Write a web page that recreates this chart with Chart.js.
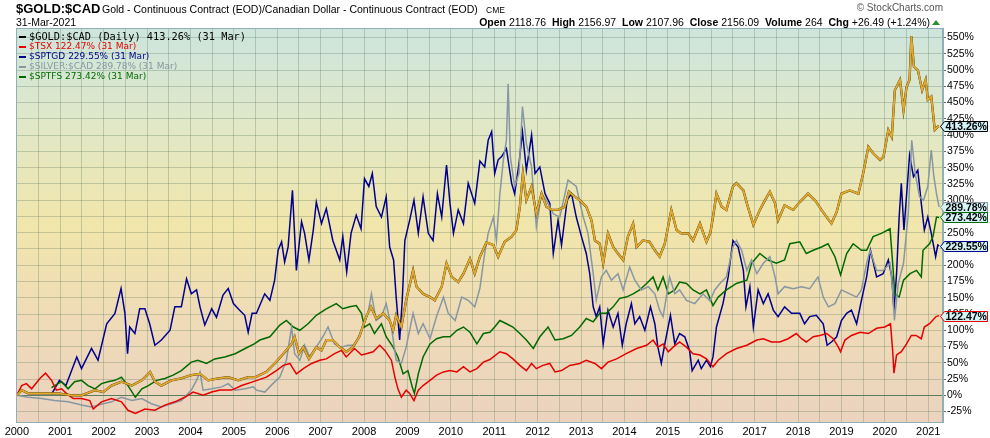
<!DOCTYPE html>
<html>
<head>
<meta charset="utf-8">
<title>$GOLD:$CAD</title>
<script src="https://cdn.jsdelivr.net/npm/chart.js@4.4.1/dist/chart.umd.min.js"></script>
<style>
  html, body { margin: 0; padding: 0; background: #fff; }
  #wrap { position: relative; width: 990px; height: 438px; overflow: hidden; }
  #chart { position: absolute; left: 0; top: 0; }
  .t { position: absolute; white-space: nowrap; font-family: "Liberation Sans", Arial, sans-serif; color: #000; line-height: 1; }
  #symbol { left: 16px; top: 2px; font-size: 13px; font-weight: bold; }
  #desc { left: 102px; top: 4.4px; font-size: 10.5px; }
  #exch { left: 486px; top: 5.5px; font-size: 8.5px; }
  #date { left: 16px; top: 17px; font-size: 10.5px; }
  #ohlc { right: 60px; top: 17px; font-size: 10.5px; }
  #ohlc b { font-weight: bold; }
  #tri { position: absolute; right: 50px; top: 20px; width: 0; height: 0; border-left: 4px solid transparent; border-right: 4px solid transparent; border-bottom: 5px solid #2f8f2f; }
  #copy { right: 47px; top: 3px; font-size: 10px; color: #555; }
  #legend { position: absolute; left: 19px; top: 31px; }
  .row { position: relative; height: 10px; line-height: 10px; white-space: nowrap; font-family: "DejaVu Sans", sans-serif; font-size: 9px; }
  .row.main { font-family: "DejaVu Sans Mono", monospace; font-size: 10.3px; }
  .row i { display: inline-block; width: 7px; height: 2px; vertical-align: middle; margin-right: 3px; }
</style>
</head>
<body>
<div id="wrap">
  <canvas id="chart" width="990" height="438"></canvas>
  <div class="t" id="symbol">$GOLD:$CAD</div>
  <div class="t" id="desc">Gold - Continuous Contract (EOD)/Canadian Dollar - Continuous Contract (EOD)</div>
  <div class="t" id="exch">CME</div>
  <div class="t" id="date">31-Mar-2021</div>
  <div class="t" id="copy">&copy; StockCharts.com</div>
  <div class="t" id="ohlc"><b>Open</b> 2118.76 &nbsp;<b>High</b> 2156.97 &nbsp;<b>Low</b> 2107.96 &nbsp;<b>Close</b> 2156.09 &nbsp;<b>Volume</b> 264 &nbsp;<b>Chg</b> +26.49 (+1.24%)</div>
  <div id="tri"></div>
  <div id="legend"></div>
</div>
<script>
// --- Data (decimal year, % change since Jan 2000) ---
const goldYears = [2000.00, 2000.11, 2000.26, 2000.57, 2000.95, 2001.26, 2001.49, 2001.80, 2001.99, 2002.18, 2002.41, 2002.65, 2002.88, 2003.07, 2003.18, 2003.33, 2003.56, 2003.79, 2004.02, 2004.22, 2004.41, 2004.64, 2004.87, 2005.10, 2005.33, 2005.50, 2005.75, 2005.94, 2006.14, 2006.33, 2006.40, 2006.50, 2006.60, 2006.73, 2006.90, 2007.02, 2007.13, 2007.28, 2007.44, 2007.59, 2007.74, 2007.89, 2008.05, 2008.16, 2008.28, 2008.44, 2008.59, 2008.67, 2008.74, 2008.86, 2008.97, 2009.13, 2009.21, 2009.36, 2009.52, 2009.63, 2009.79, 2009.90, 2010.02, 2010.17, 2010.29, 2010.44, 2010.55, 2010.67, 2010.82, 2010.98, 2011.09, 2011.24, 2011.40, 2011.51, 2011.59, 2011.66, 2011.74, 2011.86, 2011.97, 2012.09, 2012.20, 2012.32, 2012.47, 2012.63, 2012.72, 2012.86, 2012.97, 2013.12, 2013.24, 2013.32, 2013.43, 2013.51, 2013.62, 2013.74, 2013.85, 2013.97, 2014.08, 2014.20, 2014.28, 2014.43, 2014.58, 2014.70, 2014.81, 2014.93, 2015.08, 2015.20, 2015.31, 2015.47, 2015.58, 2015.74, 2015.89, 2015.98, 2016.05, 2016.12, 2016.24, 2016.35, 2016.50, 2016.58, 2016.74, 2016.82, 2016.97, 2017.12, 2017.24, 2017.35, 2017.47, 2017.54, 2017.69, 2017.89, 2018.04, 2018.23, 2018.39, 2018.54, 2018.66, 2018.77, 2018.89, 2019.00, 2019.19, 2019.39, 2019.50, 2019.62, 2019.73, 2019.89, 2019.97, 2020.08, 2020.16, 2020.23, 2020.35, 2020.43, 2020.50, 2020.57, 2020.61, 2020.67, 2020.76, 2020.86, 2020.94, 2020.99, 2021.07, 2021.15, 2021.22, 2021.25];
const goldPct = [0, 8, 3, 3, 3, 0, 0, 8, 5, 15, 21, 15, 23, 36, 21, 15, 23, 26, 31, 33, 23, 26, 28, 23, 28, 28, 36, 49, 64, 79, 90, 64, 74, 56, 74, 69, 85, 85, 74, 67, 74, 90, 121, 136, 118, 126, 115, 100, 123, 105, 146, 192, 167, 156, 151, 146, 167, 203, 182, 174, 187, 210, 187, 213, 235, 231, 213, 236, 244, 254, 290, 341, 300, 321, 279, 310, 290, 285, 285, 290, 313, 305, 300, 290, 269, 238, 233, 203, 249, 228, 218, 208, 244, 264, 228, 238, 236, 223, 213, 233, 285, 254, 249, 249, 238, 264, 236, 250, 278, 310, 290, 285, 321, 326, 315, 295, 262, 285, 300, 313, 295, 269, 292, 285, 297, 310, 300, 285, 274, 264, 282, 310, 315, 310, 341, 382, 372, 362, 367, 408, 397, 469, 485, 438, 474, 485, 552, 505, 500, 469, 485, 454, 459, 408, 413, 413.26];

const tsxYears = [2000.00, 2000.11, 2000.22, 2000.34, 2000.53, 2000.66, 2000.80, 2000.91, 2001.03, 2001.14, 2001.30, 2001.49, 2001.68, 2001.76, 2001.95, 2002.18, 2002.41, 2002.56, 2002.73, 2002.95, 2003.18, 2003.41, 2003.64, 2003.87, 2004.06, 2004.29, 2004.49, 2004.68, 2004.95, 2005.18, 2005.45, 2005.75, 2005.98, 2006.14, 2006.29, 2006.44, 2006.60, 2006.79, 2006.98, 2007.13, 2007.32, 2007.48, 2007.59, 2007.78, 2007.94, 2008.05, 2008.21, 2008.36, 2008.48, 2008.63, 2008.71, 2008.78, 2008.86, 2008.97, 2009.05, 2009.15, 2009.25, 2009.36, 2009.52, 2009.67, 2009.83, 2009.98, 2010.14, 2010.29, 2010.44, 2010.60, 2010.75, 2010.90, 2011.13, 2011.28, 2011.43, 2011.59, 2011.74, 2011.86, 2011.97, 2012.12, 2012.28, 2012.40, 2012.55, 2012.74, 2012.97, 2013.12, 2013.32, 2013.47, 2013.62, 2013.82, 2014.04, 2014.28, 2014.51, 2014.66, 2014.77, 2014.89, 2015.01, 2015.12, 2015.27, 2015.43, 2015.58, 2015.74, 2015.89, 2016.04, 2016.16, 2016.35, 2016.58, 2016.82, 2017.05, 2017.20, 2017.39, 2017.58, 2017.77, 2017.96, 2018.08, 2018.19, 2018.35, 2018.50, 2018.66, 2018.81, 2018.93, 2018.98, 2019.08, 2019.23, 2019.43, 2019.62, 2019.81, 2020.00, 2020.13, 2020.18, 2020.21, 2020.27, 2020.38, 2020.50, 2020.61, 2020.72, 2020.84, 2020.91, 2021.03, 2021.18, 2021.25];
const tsxPct = [0, 15, 18, 10, 26, 34, 23, 8, 10, 3, -5, -5, -8, -21, -10, -5, -10, -23, -28, -21, -23, -15, -10, -3, 5, 0, 5, 8, 8, 15, 21, 28, 38, 46, 49, 33, 41, 49, 54, 56, 64, 69, 59, 72, 62, 64, 67, 77, 69, 54, 28, 10, -3, 8, 3, -8, 8, 15, 23, 31, 36, 38, 36, 44, 36, 41, 51, 55, 67, 64, 56, 46, 38, 49, 41, 46, 49, 36, 38, 46, 49, 54, 49, 41, 51, 56, 64, 72, 77, 85, 74, 79, 67, 74, 82, 74, 64, 62, 56, 44, 54, 64, 72, 77, 85, 87, 82, 82, 87, 95, 87, 82, 90, 92, 95, 87, 74, 67, 85, 92, 97, 95, 103, 105, 110, 69, 34, 62, 67, 79, 92, 92, 87, 105, 110, 121, 122.47];

const sptgdYears = [2000.80, 2000.98, 2001.13, 2001.38, 2001.49, 2001.72, 2001.87, 2002.07, 2002.26, 2002.40, 2002.49, 2002.55, 2002.60, 2002.72, 2002.83, 2002.95, 2003.06, 2003.18, 2003.33, 2003.53, 2003.64, 2003.79, 2003.91, 2004.02, 2004.14, 2004.22, 2004.33, 2004.49, 2004.60, 2004.75, 2004.87, 2004.99, 2005.10, 2005.25, 2005.33, 2005.42, 2005.52, 2005.71, 2005.83, 2005.94, 2006.02, 2006.10, 2006.17, 2006.25, 2006.35, 2006.44, 2006.56, 2006.63, 2006.73, 2006.83, 2006.90, 2007.02, 2007.13, 2007.28, 2007.44, 2007.51, 2007.60, 2007.70, 2007.82, 2007.93, 2008.01, 2008.11, 2008.19, 2008.28, 2008.40, 2008.51, 2008.59, 2008.68, 2008.74, 2008.82, 2008.88, 2008.94, 2009.05, 2009.15, 2009.25, 2009.36, 2009.48, 2009.59, 2009.69, 2009.79, 2009.90, 2009.98, 2010.06, 2010.17, 2010.29, 2010.40, 2010.55, 2010.67, 2010.78, 2010.86, 2010.94, 2011.01, 2011.09, 2011.17, 2011.28, 2011.40, 2011.47, 2011.57, 2011.65, 2011.74, 2011.86, 2011.94, 2012.05, 2012.17, 2012.28, 2012.36, 2012.47, 2012.55, 2012.68, 2012.78, 2012.89, 2013.01, 2013.12, 2013.20, 2013.28, 2013.35, 2013.43, 2013.51, 2013.62, 2013.74, 2013.85, 2013.95, 2014.04, 2014.16, 2014.24, 2014.35, 2014.47, 2014.60, 2014.70, 2014.77, 2014.85, 2014.93, 2015.06, 2015.16, 2015.27, 2015.39, 2015.50, 2015.56, 2015.70, 2015.77, 2015.89, 2015.98, 2016.04, 2016.12, 2016.27, 2016.39, 2016.50, 2016.62, 2016.74, 2016.80, 2016.89, 2016.97, 2017.08, 2017.20, 2017.31, 2017.43, 2017.54, 2017.69, 2017.85, 2018.04, 2018.15, 2018.27, 2018.42, 2018.58, 2018.67, 2018.77, 2018.89, 2019.00, 2019.12, 2019.23, 2019.35, 2019.46, 2019.58, 2019.67, 2019.81, 2019.96, 2020.08, 2020.16, 2020.21, 2020.27, 2020.33, 2020.38, 2020.44, 2020.57, 2020.66, 2020.76, 2020.84, 2020.91, 2020.99, 2021.07, 2021.17, 2021.22, 2021.25];
const sptgdPct = [2, 23, 15, 59, 41, 72, 54, 110, 126, 164, 126, 64, 105, 95, 133, 133, 110, 77, 85, 100, 136, 136, 179, 156, 162, 136, 108, 133, 120, 154, 164, 141, 133, 123, 97, 126, 126, 156, 146, 177, 223, 236, 205, 228, 315, 192, 267, 249, 208, 254, 297, 264, 287, 238, 208, 244, 190, 249, 277, 256, 333, 321, 341, 290, 274, 305, 228, 208, 151, 85, 146, 238, 269, 300, 249, 305, 249, 238, 310, 274, 354, 295, 249, 285, 264, 326, 295, 360, 351, 392, 405, 341, 362, 367, 379, 326, 310, 356, 405, 346, 400, 341, 351, 310, 295, 218, 269, 231, 300, 310, 274, 244, 218, 187, 136, 121, 136, 79, 131, 105, 126, 77, 110, 141, 110, 121, 100, 136, 110, 74, 49, 79, 123, 79, 95, 90, 69, 38, 54, 41, 54, 44, 59, 105, 141, 182, 238, 228, 192, 136, 167, 105, 162, 141, 156, 131, 121, 136, 126, 126, 110, 121, 123, 110, 77, 82, 90, 115, 126, 131, 110, 146, 182, 223, 182, 187, 208, 182, 131, 187, 274, 326, 254, 369, 336, 346, 295, 254, 274, 249, 213, 231, 229.55];

const silverYears = [2000.00, 2000.26, 2000.57, 2000.87, 2001.18, 2001.49, 2001.72, 2001.99, 2002.18, 2002.41, 2002.65, 2002.88, 2003.10, 2003.33, 2003.56, 2003.79, 2004.02, 2004.14, 2004.22, 2004.29, 2004.49, 2004.72, 2004.87, 2005.03, 2005.26, 2005.45, 2005.52, 2005.71, 2005.90, 2006.06, 2006.21, 2006.33, 2006.40, 2006.52, 2006.63, 2006.75, 2006.90, 2007.05, 2007.17, 2007.32, 2007.48, 2007.63, 2007.78, 2007.94, 2008.09, 2008.17, 2008.28, 2008.40, 2008.51, 2008.63, 2008.74, 2008.86, 2008.97, 2009.13, 2009.25, 2009.36, 2009.52, 2009.67, 2009.83, 2009.94, 2010.10, 2010.25, 2010.40, 2010.55, 2010.67, 2010.78, 2010.86, 2010.98, 2011.05, 2011.13, 2011.21, 2011.28, 2011.32, 2011.37, 2011.47, 2011.57, 2011.65, 2011.74, 2011.86, 2011.97, 2012.09, 2012.20, 2012.36, 2012.51, 2012.70, 2012.89, 2013.05, 2013.16, 2013.28, 2013.35, 2013.47, 2013.58, 2013.70, 2013.85, 2013.97, 2014.12, 2014.24, 2014.39, 2014.55, 2014.70, 2014.81, 2014.89, 2015.04, 2015.16, 2015.27, 2015.43, 2015.62, 2015.81, 2015.97, 2016.08, 2016.20, 2016.35, 2016.50, 2016.58, 2016.70, 2016.82, 2016.93, 2017.05, 2017.20, 2017.35, 2017.47, 2017.54, 2017.69, 2017.89, 2018.08, 2018.27, 2018.46, 2018.58, 2018.70, 2018.85, 2019.00, 2019.19, 2019.35, 2019.46, 2019.58, 2019.66, 2019.81, 2019.96, 2020.12, 2020.18, 2020.22, 2020.31, 2020.43, 2020.54, 2020.62, 2020.70, 2020.80, 2020.89, 2020.99, 2021.07, 2021.13, 2021.19, 2021.25];
const silverPct = [0, -3, -5, -8, -10, -15, -18, -13, -10, -3, -8, -5, -13, -18, -13, -8, 8, 23, 36, 8, 10, 13, 18, 8, 10, 13, 8, 5, 18, 28, 54, 105, 64, 54, 77, 59, 74, 90, 105, 79, 74, 77, 77, 100, 126, 156, 115, 121, 141, 105, 54, 49, 74, 126, 95, 110, 87, 121, 151, 126, 115, 151, 146, 136, 165, 218, 249, 274, 238, 310, 362, 392, 479, 367, 321, 341, 444, 387, 351, 259, 310, 300, 279, 274, 331, 321, 274, 249, 187, 146, 182, 192, 177, 187, 162, 197, 177, 162, 167, 156, 131, 121, 182, 156, 162, 146, 141, 156, 145, 162, 172, 182, 228, 238, 223, 192, 208, 187, 203, 213, 182, 156, 167, 164, 167, 164, 182, 151, 136, 141, 162, 156, 151, 162, 203, 223, 192, 192, 203, 162, 115, 172, 203, 279, 392, 341, 305, 300, 321, 377, 336, 310, 289.78];

const sptfsYears = [2000.80, 2000.87, 2001.03, 2001.18, 2001.33, 2001.49, 2001.64, 2001.80, 2001.95, 2002.10, 2002.26, 2002.41, 2002.56, 2002.73, 2002.88, 2003.03, 2003.22, 2003.41, 2003.60, 2003.79, 2004.02, 2004.17, 2004.37, 2004.56, 2004.79, 2005.03, 2005.26, 2005.47, 2005.60, 2005.83, 2006.06, 2006.21, 2006.37, 2006.52, 2006.71, 2006.90, 2007.13, 2007.36, 2007.51, 2007.67, 2007.82, 2007.94, 2008.01, 2008.13, 2008.24, 2008.40, 2008.51, 2008.67, 2008.78, 2008.90, 2009.01, 2009.11, 2009.16, 2009.25, 2009.36, 2009.52, 2009.67, 2009.83, 2009.98, 2010.14, 2010.29, 2010.44, 2010.60, 2010.75, 2010.90, 2011.01, 2011.13, 2011.28, 2011.43, 2011.59, 2011.74, 2011.90, 2012.05, 2012.24, 2012.40, 2012.59, 2012.78, 2012.97, 2013.12, 2013.28, 2013.43, 2013.58, 2013.74, 2013.89, 2014.04, 2014.20, 2014.35, 2014.51, 2014.66, 2014.77, 2014.89, 2015.01, 2015.16, 2015.27, 2015.43, 2015.58, 2015.74, 2015.89, 2016.04, 2016.16, 2016.35, 2016.58, 2016.82, 2016.93, 2017.12, 2017.31, 2017.50, 2017.69, 2017.81, 2018.04, 2018.19, 2018.35, 2018.54, 2018.69, 2018.85, 2018.98, 2019.12, 2019.27, 2019.46, 2019.58, 2019.73, 2019.92, 2020.12, 2020.18, 2020.23, 2020.33, 2020.43, 2020.58, 2020.73, 2020.84, 2020.88, 2021.03, 2021.11, 2021.19, 2021.25];
const sptfsPct = [12, 15, 21, 10, 21, 23, 15, 10, 18, 21, 23, 28, 15, -3, 10, 15, 23, 26, 31, 38, 51, 54, 49, 56, 59, 64, 72, 79, 85, 90, 108, 115, 105, 100, 110, 123, 133, 141, 133, 136, 138, 126, 105, 110, 95, 110, 90, 74, 59, 33, 38, 13, 3, 33, 59, 79, 87, 90, 90, 100, 105, 97, 79, 95, 97, 105, 115, 110, 105, 95, 85, 72, 90, 105, 85, 87, 92, 105, 118, 113, 126, 126, 136, 149, 151, 156, 162, 172, 182, 162, 182, 156, 162, 174, 172, 162, 156, 162, 138, 151, 162, 172, 177, 203, 218, 208, 203, 208, 233, 236, 218, 223, 228, 233, 213, 185, 218, 233, 223, 223, 244, 249, 256, 203, 156, 151, 177, 187, 192, 182, 223, 233, 244, 274, 273.42];

// axis tick labels
const yearTicks = [2000, 2001, 2002, 2003, 2004, 2005, 2006, 2007, 2008, 2009, 2010, 2011, 2012, 2013, 2014, 2015, 2016, 2017, 2018, 2019, 2020, 2021];
const pctTicks = [-25, 0, 25, 50, 75, 100, 125, 150, 175, 200, 225, 250, 275, 300, 325, 350, 375, 400, 425, 450, 475, 500, 525, 550];

// --- Series setup ---
const toPoints = (xs, ys) => xs.map((x, i) => ({ x: x, y: ys[i] }));

const series = [
    { name: '$GOLD:$CAD', extra: ' (Daily)', xs: goldYears, ys: goldPct, color: '#e2a92c', text: '#000', tagBorder: '#000', main: true },
    { name: '$TSX', xs: tsxYears, ys: tsxPct, color: '#e60000', text: '#e60000', tagBorder: '#e60000' },
    { name: '$SPTGD', xs: sptgdYears, ys: sptgdPct, color: '#000090', text: '#000090', tagBorder: '#000090' },
    { name: '$SILVER:$CAD', xs: silverYears, ys: silverPct, color: '#8797a3', text: '#8797a3', tagBorder: '#8797a3' },
    { name: '$SPTFS', xs: sptfsYears, ys: sptfsPct, color: '#006a00', text: '#006a00', tagBorder: '#006a00' }
];

const lastOf = s => s.ys[s.ys.length - 1];

// --- Legend (HTML) ---
const legendEl = document.getElementById('legend');
series.forEach(s => {
    const row = document.createElement('div');
    row.className = 'row' + (s.main ? ' main' : '');
    row.style.color = s.text;
    row.innerHTML = `<i style="background:${s.main ? '#000' : s.color}"></i>${s.name}${s.extra || ''} ${lastOf(s).toFixed(2)}% (31 Mar)`;
    legendEl.appendChild(row);
});

// --- Datasets: first drawn on top ---
const byName = n => series.find(s => s.name === n);
const mk = (s, color, width) => ({
    label: s.name,
    data: toPoints(s.xs, s.ys),
    borderColor: color,
    borderWidth: width,
    pointRadius: 0,
    tension: 0,
    fill: false
});
const gold = byName('$GOLD:$CAD');
const datasets = [
    mk(gold, gold.color, 1.9),
    mk(gold, '#3b2b00', 2.3),   // thin dark edge under the gold line
    mk(byName('$TSX'), byName('$TSX').color, 1.5),
    mk(byName('$SILVER:$CAD'), byName('$SILVER:$CAD').color, 1.5),
    mk(byName('$SPTFS'), byName('$SPTFS').color, 1.5),
    mk(byName('$SPTGD'), byName('$SPTGD').color, 1.5)
];

// --- Plugins: background gradient, frame, value tags ---
const chartDeco = {
    id: 'chartDeco',
    beforeDraw(c) {
        const { ctx, chartArea: a } = c;
        ctx.save();
        ctx.fillStyle = '#fff';
        ctx.fillRect(0, 0, c.width, c.height);
        const g = ctx.createLinearGradient(0, a.top, 0, a.bottom);
        g.addColorStop(0, '#cde5dd');
        g.addColorStop(0.25, '#e1e8c7');
        g.addColorStop(0.5, '#f1e6ab');
        g.addColorStop(0.72, '#efdcb6');
        g.addColorStop(1, '#ebd3bf');
        ctx.fillStyle = g;
        ctx.fillRect(a.left, a.top, a.right - a.left, a.bottom - a.top);
        ctx.restore();
    },
    afterDraw(c) {
        const { ctx, chartArea: a } = c;
        const yScale = c.scales.y;
        ctx.save();
        ctx.strokeStyle = '#8fb0b6';
        ctx.lineWidth = 1;
        ctx.strokeRect(a.left + 0.5, a.top + 0.5, a.right - a.left - 1, a.bottom - a.top);

        // last-value tags on the right axis
        ctx.font = 'bold 10.5px "Liberation Sans", Arial, sans-serif';
        ctx.textBaseline = 'middle';
        series.forEach(s => {
            const v = lastOf(s);
            const y = Math.round(yScale.getPixelForValue(v)) + 0.5;
            const x0 = a.right - 2.5, x1 = a.right + 1.5, x2 = a.right + 44.5, h = 5;
            ctx.beginPath();
            ctx.moveTo(x0, y);
            ctx.lineTo(x1, y - h);
            ctx.lineTo(x2, y - h);
            ctx.lineTo(x2, y + h);
            ctx.lineTo(x1, y + h);
            ctx.closePath();
            ctx.fillStyle = '#d3f3f7';
            ctx.fill();
            ctx.strokeStyle = s.tagBorder;
            ctx.lineWidth = 1;
            ctx.stroke();
            ctx.fillStyle = '#000';
            ctx.fillText(v.toFixed(2) + '%', a.right + 2.5, y + 0.5);
        });
        ctx.restore();
    }
};

const gridColor = 'rgba(90,118,96,0.30)';
const halfYears = [];
yearTicks.forEach(y => { halfYears.push(y); if (y < 2021) halfYears.push(y + 0.5); });

new Chart(document.getElementById('chart').getContext('2d'), {
    type: 'line',
    data: { datasets: datasets },
    options: {
        responsive: false,
        animation: false,
        layout: { padding: { left: 16, top: 28, right: 0, bottom: 0 } },
        plugins: { legend: { display: false }, tooltip: { enabled: false } },
        scales: {
            x: {
                type: 'linear',
                min: 1999.98,
                max: 2021.34,
                afterBuildTicks: s => { s.ticks = halfYears.map(v => ({ value: v })); },
                afterFit: s => { s.height = 16; },
                grid: { color: gridColor, drawTicks: false },
                border: { display: false },
                ticks: {
                    autoSkip: false,
                    maxRotation: 0,
                    padding: 3,
                    color: '#000',
                    font: { family: '"Liberation Sans", Arial, sans-serif', size: 11 },
                    callback: v => Number.isInteger(v) ? String(v) : ''
                }
            },
            y: {
                position: 'right',
                min: -41,
                max: 564.6,
                afterBuildTicks: s => { s.ticks = pctTicks.map(v => ({ value: v })); },
                afterFit: s => { s.width = 47; },
                grid: {
                    color: ctx => (ctx.tick && ctx.tick.value === 0) ? '#5d7d5f' : gridColor,
                    tickColor: '#666',
                    tickLength: 3
                },
                border: { color: '#8fb0b6' },
                ticks: {
                    padding: 1,
                    color: '#000',
                    font: { family: '"Liberation Sans", Arial, sans-serif', size: 10.5 },
                    callback: v => v + '%'
                }
            }
        }
    },
    plugins: [chartDeco]
});
</script>
</body>
</html>
